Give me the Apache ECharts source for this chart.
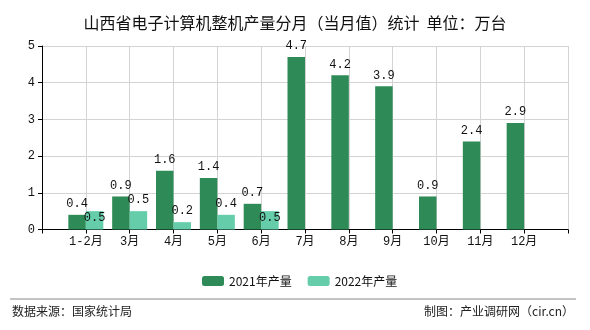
<!DOCTYPE html>
<html>
<head>
<meta charset="utf-8">
<script src="https://cdn.jsdelivr.net/npm/echarts@6/dist/echarts.min.js"></script>
<style>html,body{margin:0;padding:0;background:#fff;}#c{width:590px;height:330px;}</style>
</head>
<body>
<div id="c"></div>
<script>
var titleText = '山西省电子计算机整机产量分月（当月值）统计  单位：万台';
var categories = ['1-2月','3月','4月','5月','6月','7月','8月','9月','10月','11月','12月'];
var series2021 = [0.4, 0.9, 1.6, 1.4, 0.7, 4.7, 4.2, 3.9, 0.9, 2.4, 2.9];
var series2022 = [0.5, 0.5, 0.2, 0.4, 0.5, null, null, null, null, null, null];
var seriesNames = ['2021年产量', '2022年产量'];
var yTicks = [0, 1, 2, 3, 4, 5];
var sourceText = '数据来源：国家统计局';
var creditText = '制图：产业调研网（cir.cn）';

var monoFont = '"Liberation Mono","Noto Sans CJK SC",monospace';
var cjkFont = '"Noto Sans CJK SC","Noto Sans",sans-serif';

var cats = [''].concat(categories).concat(['']);
function pad(arr){ return [null].concat(arr).concat([null]); }
var d2021 = pad(series2021);
// labels of some 2022 bars sit inside the bar (collision with neighbouring labels)
var insideIdx = {1: true, 5: true};
var d2022 = pad(series2022).map(function(v, i){
  if (v == null) return null;
  if (insideIdx[i]) return {value: v, label: {position: 'insideTop', distance: 1}};
  return v;
});

var chart = echarts.init(document.getElementById('c'), null, {renderer: 'canvas'});
chart.setOption({
  animation: false,
  backgroundColor: '#fff',
  title: {
    text: titleText, left: 'center', top: 10,
    textStyle: {fontFamily: cjkFont, fontSize: 16, fontWeight: 'normal', color: '#111'}
  },
  legend: {
    data: seriesNames, left: 197, top: 270, itemWidth: 22, itemHeight: 10, itemGap: 16,
    textStyle: {fontFamily: cjkFont, fontSize: 12, color: '#111'}
  },
  grid: {left: 42, right: 22, top: 46, bottom: 100.5, containLabel: false},
  xAxis: {
    type: 'category', data: cats, boundaryGap: false,
    axisLine: {lineStyle: {color: '#000', width: 1}},
    axisTick: {show: true, length: 4, interval: 0, lineStyle: {color: '#000'}},
    axisLabel: {interval: 0, margin: 6, fontFamily: monoFont, fontSize: 12, color: '#111'},
    splitLine: {show: true, interval: 0, lineStyle: {color: '#d3d3d3', width: 1}}
  },
  yAxis: {
    type: 'value', min: yTicks[0], max: yTicks[yTicks.length-1], interval: 1,
    axisLine: {show: true, lineStyle: {color: '#000', width: 1}},
    axisTick: {show: true, length: 4, lineStyle: {color: '#000'}},
    axisLabel: {margin: 7, fontFamily: monoFont, fontSize: 12, color: '#111'},
    splitLine: {show: true, lineStyle: {color: '#d3d3d3', width: 1}}
  },
  series: [
    {
      name: seriesNames[0], type: 'bar', data: d2021, barWidth: 17.5, barGap: '0%',
      itemStyle: {color: '#2e8b57'},
      label: {show: true, position: 'top', distance: 5, fontFamily: monoFont, fontSize: 12, color: '#111'}
    },
    {
      name: seriesNames[1], type: 'bar', data: d2022, barWidth: 17.5, barGap: '0%',
      itemStyle: {color: '#66cdaa'},
      label: {show: true, position: 'top', distance: 5, fontFamily: monoFont, fontSize: 12, color: '#111'}
    }
  ],
  graphic: [
    {type: 'line', shape: {x1: 10, y1: 299, x2: 576, y2: 299}, style: {stroke: '#888', lineWidth: 1}},
    {type: 'text', left: 12, top: 305, style: {text: sourceText, font: '12px ' + cjkFont, fill: '#222'}},
    {type: 'text', right: 16, top: 305, style: {text: creditText, font: '12px ' + cjkFont, fill: '#222'}}
  ]
});
</script>
</body>
</html>
